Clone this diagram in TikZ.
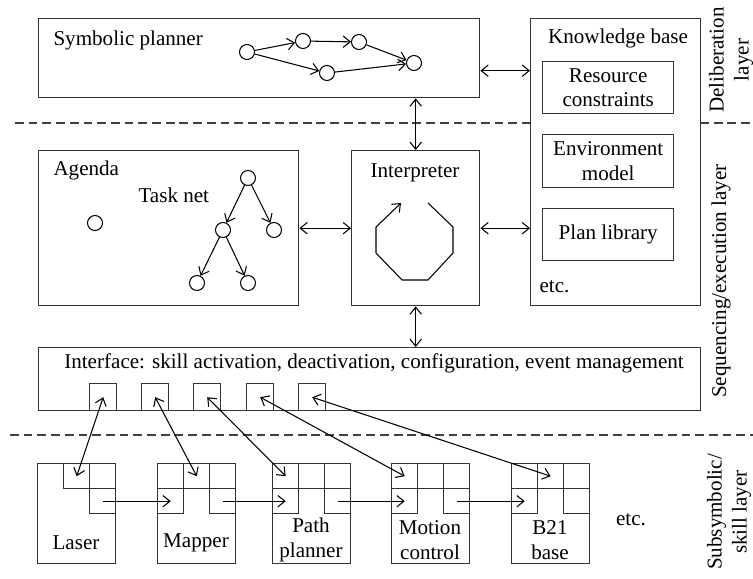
\documentclass[tikz,border=0pt]{standalone}
\usepackage{fontspec}
\setmainfont{Liberation Serif}
\usetikzlibrary{positioning}
\usetikzlibrary{arrows.meta}

\newcommand{\unitpx}{0.02cm}

\begin{document}
\begin{tikzpicture}
  [x = 0.02cm, y = -0.02cm, line width = 0.6pt,
   font = \fontsize{12}{14.2}\selectfont,
   >= {Straight Barb[length = 4pt, width = 6.5pt]},
   box/.style 2 args = {draw = black!80, line width = 0.8pt, anchor = north west,
     inner sep = 0pt, minimum width = #1*\unitpx, minimum height = #2*\unitpx},
   state/.style = {draw, circle, inner sep = 0pt, minimum size = 15*\unitpx},
   txt/.style = {inner sep = 0pt, anchor = west},
   side/.style = {rotate = 90, align = center},
   layerline/.style = {draw = black!75, dash pattern = on 5pt off 2.8pt}]
  \useasboundingbox (0, 0) rectangle (753, 578);

  \node [box = {441}{79}] (planner) at (38, 18) {};
  \node [txt] (plannertext) at (53, 40) {Symbolic planner};
  \node [state] (p1) at (247, 52) {};
  \node [state] (p2) at (303, 41) {};
  \node [state] (p3) at (359, 42) {};
  \node [state] (p4) at (327, 73) {};
  \node [state] (p5) at (414, 63) {};

  \node [box = {170}{287}] (kb) at (530, 18) {};
  \node (kbtext) at (618, 38) {Knowledge base};
  \node [box = {131}{52}, align = center] (rc) at (542, 61) {Resource\\constraints};
  \node [box = {131}{53}, align = center] (em) at (542, 134) {Environment\\model};
  \node [box = {131}{52}] (pl) at (542, 208) {Plan library};
  \node [txt] (kbetc) at (539, 287) {etc.};

  \node [box = {260}{155}] (agenda) at (38, 150) {};
  \node [txt] (agendatext) at (53, 170) {Agenda};
  \node [txt] (tasknet) at (138, 195) {Task net};
  \node [state] (a0) at (95, 223) {};
  \node [state] (t1) at (248, 178) {};
  \node [state] (t2) at (223, 230) {};
  \node [state] (t3) at (274, 230) {};
  \node [state] (t4) at (197, 283) {};
  \node [state] (t5) at (248, 283) {};

  \node [box = {128}{155}] (interp) at (351, 150) {};
  \node (interptext) at (415, 173) {Interpreter};

  \node [box = {662}{63}] (iface) at (38, 347) {};
  \node (ifacetext) at (374, 363)
    {Interface: skill activation, deactivation, configuration, event management};
  \node [box = {27}{27}] (sq1) at (89, 383) {};
  \node [box = {27}{27}] (sq2) at (141, 383) {};
  \node [box = {27}{27}] (sq3) at (193, 383) {};
  \node [box = {27}{27}] (sq4) at (246, 383) {};
  \node [box = {27}{27}] (sq5) at (298, 383) {};

  \node [box = {78}{100}] (laser) at (37, 463) {};
  \node [box = {26}{25}] (lasertm) at (63, 463) {};
  \node [box = {26}{25}] (lasertr) at (89, 463) {};
  \node [box = {26}{25}] (laserbr) at (89, 488) {};
  \node (lasertext) at (76, 543) {Laser};

  \node [box = {78}{100}] (mapper) at (157, 463) {};
  \node [box = {26}{25}] (mappertl) at (157, 463) {};
  \node [box = {26}{25}] (mappertm) at (183, 463) {};
  \node [box = {26}{25}] (mappertr) at (209, 463) {};
  \node [box = {26}{25}] (mapperbl) at (157, 488) {};
  \node [box = {26}{25}] (mapperbr) at (209, 488) {};
  \node (mappertext) at (196, 543) {Mapper};

  \node [box = {78}{100}] (path) at (272, 463) {};
  \node [box = {26}{25}] (pathtl) at (272, 463) {};
  \node [box = {26}{25}] (pathtm) at (298, 463) {};
  \node [box = {26}{25}] (pathtr) at (324, 463) {};
  \node [box = {26}{25}] (pathbl) at (272, 488) {};
  \node [box = {26}{25}] (pathbr) at (324, 488) {};
  \node [align = center] (pathtext) at (311, 540) {Path\\planner};

  \node [box = {78}{100}] (motion) at (391, 463) {};
  \node [box = {26}{25}] (motiontl) at (391, 463) {};
  \node [box = {26}{25}] (motiontm) at (417, 463) {};
  \node [box = {26}{25}] (motiontr) at (443, 463) {};
  \node [box = {26}{25}] (motionbl) at (391, 488) {};
  \node [box = {26}{25}] (motionbr) at (443, 488) {};
  \node [align = center] (motiontext) at (430, 540) {Motion\\control};

  \node [box = {78}{100}] (base) at (511, 463) {};
  \node [box = {26}{25}] (basetl) at (511, 463) {};
  \node [box = {26}{25}] (basetm) at (537, 463) {};
  \node [box = {26}{25}] (basetr) at (563, 463) {};
  \node [box = {26}{25}] (basebl) at (511, 488) {};
  \node [box = {26}{25}] (basebr) at (563, 488) {};
  \node [align = center] (basetext) at (550, 540) {B21\\base};

  \node (skilletc) at (631, 520) {etc.};

  \node [side] (delib) at (731, 60) {Deliberation\\layer};
  \node [side] (seq) at (721, 281) {Sequencing/execution layer};
  \node [side] (subsym) at (729, 512) {Subsymbolic/\\skill layer};

  \draw [layerline] (15, 123) -- (530, 123);
  \draw [layerline] (700, 123) -- (753, 123);
  \draw [layerline] (10, 435) -- (753, 435);

  \draw [->] (p1) -- (p2);
  \draw [->] (p2) -- (p3);
  \draw [->] (p1) -- (p4);
  \draw [->] (p3) -- (p5);
  \draw [->] (p4) -- (p5);

  \draw [->] (t1) -- (t2);
  \draw [->] (t1) -- (t3);
  \draw [->] (t2) -- (t4);
  \draw [->] (t2) -- (t5);

  \draw [->] (428, 203) -- (453, 227) -- (453, 253) -- (428, 280)
    -- (402, 280) -- (376, 253) -- (376, 227) -- (401, 203);

  \draw [<->] ([yshift = -0.25cm]planner.east) -- ([yshift = -0.25cm]planner.east -| kb.west);
  \draw [<->] (planner.south -| interp.north) -- (interp.north);
  \draw [<->] (agenda.east) -- (interp.west);
  \draw [<->] (interp.east) -- (interp.east -| kb.west);
  \draw [<->] (interp.south) -- (interp.south |- iface.north);

  \draw [<->] (sq1.center) -- (lasertm.center);
  \draw [<->] (sq2.center) -- (mappertm.center);
  \draw [<->] (sq3.center) -- (pathtl.center);
  \draw [<->] (sq4.center) -- (motiontl.center);
  \draw [<->] (sq5.center) -- (basetm.center);

  \draw [->] (laserbr.center) -- (mapperbl.center);
  \draw [->] (mapperbr.center) -- (pathbl.center);
  \draw [->] (pathbr.center) -- (motionbl.center);
  \draw [->] (motionbr.center) -- (basebl.center);
\end{tikzpicture}
\end{document}
